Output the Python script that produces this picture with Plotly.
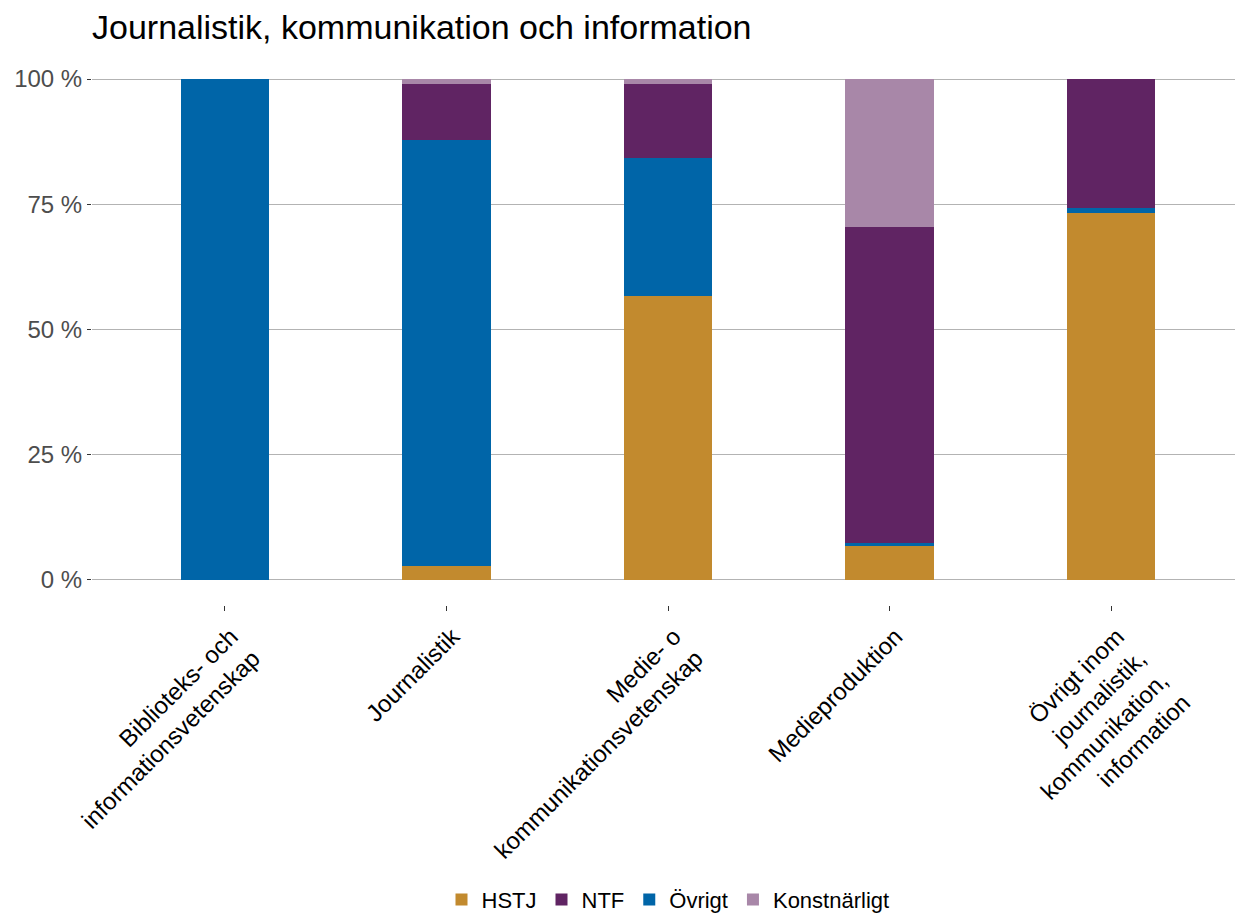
import plotly.graph_objects as go

categories = [
    "Biblioteks- och<br>informationsvetenskap",
    "Journalistik",
    "Medie- o<br>kommunikationsvetenskap",
    "Medieproduktion",
    "Övrigt inom<br>journalistik,<br>kommunikation,<br>information",
]

hstj = [0.0, 2.8, 56.6, 6.7, 73.3]
ovrigt = [100.0, 85.1, 27.7, 0.6, 1.0]
ntf = [0.0, 11.1, 14.7, 63.2, 25.7]
konst = [0.0, 1.0, 1.0, 29.5, 0.0]

series = [
    ("HSTJ", hstj, "#C28A2E", 1),
    ("Övrigt", ovrigt, "#0065A8", 3),
    ("NTF", ntf, "#602463", 2),
    ("Konstnärligt", konst, "#A887A8", 4),
]

fig = go.Figure()
for name, vals, color, rank in series:
    fig.add_trace(go.Bar(
        x=list(range(len(categories))), y=vals, name=name,
        marker=dict(color=color, line=dict(width=0)),
        width=0.4, legendrank=rank,
    ))

# page body has an 8px margin, so offsets are shifted by -8
fig.update_layout(
    barmode="stack",
    width=1243, height=920,
    margin=dict(l=84, r=7, t=46, b=323, autoexpand=False),
    plot_bgcolor="white", paper_bgcolor="white",
    font=dict(family="Liberation Sans, Arial, sans-serif", size=22, color="black"),
    title=dict(text="Journalistik, kommunikation och information", x=84 / 1243, xanchor="left",
               y=1 - 7 / 920, yanchor="top", pad=dict(t=0, b=0), font=dict(size=34, color="black")),
    showlegend=True,
    legend=dict(orientation="h", x=0.5, xanchor="center", y=-0.535, yanchor="middle",
                font=dict(size=22, color="black"), itemwidth=30, traceorder="normal"),
)
fig.update_xaxes(
    range=[-0.6, 4.6], tickmode="array", tickvals=list(range(len(categories))), ticktext=categories,
    tickangle=-45, showgrid=False, zeroline=False, showline=False,
    ticks="outside", ticklen=5, tickcolor="#333333", automargin=False,
    ticklabelshift=6, ticklabelstandoff=2,
    tickfont=dict(size=24, color="black"),
)
fig.update_yaxes(
    range=[-5, 105], tickvals=[0, 25, 50, 75, 100], ticktext=["0 %", "25 %", "50 %", "75 %", "100 %"],
    showgrid=True, gridcolor="#B3B3B3", gridwidth=1, zeroline=False, showline=False,
    ticks="outside", ticklen=4, tickcolor="#333333", automargin=False,
    tickfont=dict(size=24, color="#4D4D4D"),
)

fig.write_html("out.html")
